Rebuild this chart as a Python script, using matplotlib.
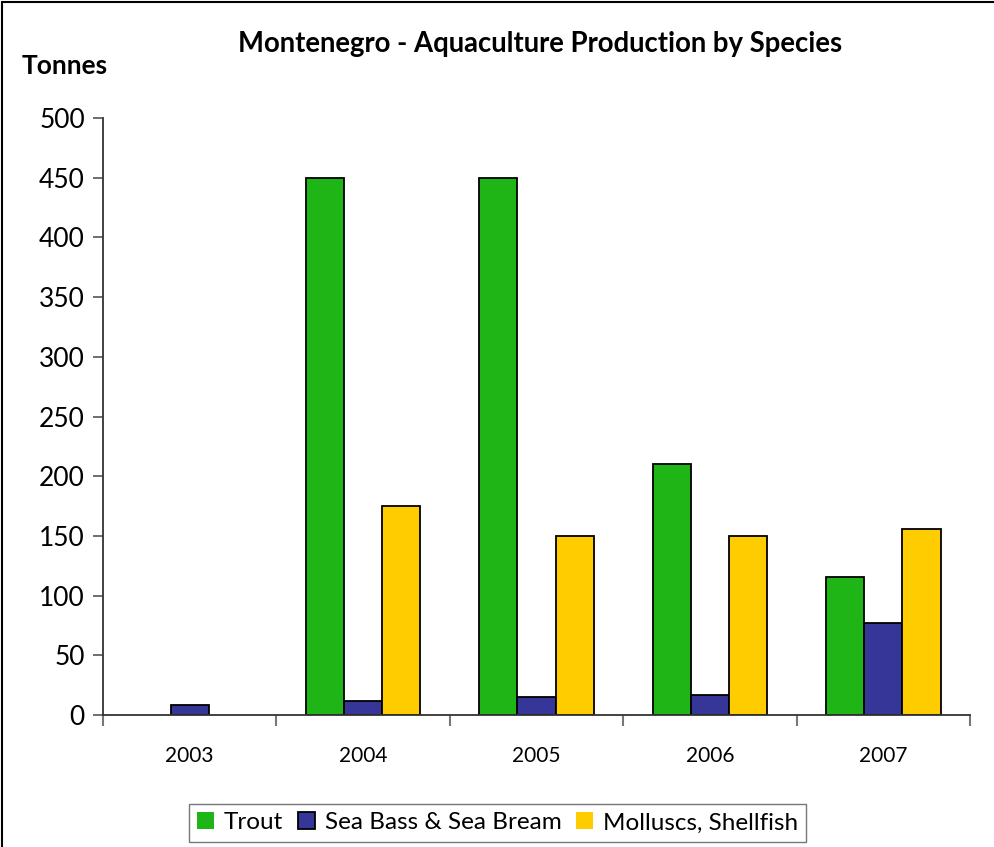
import matplotlib.pyplot as plt
import numpy as np
from matplotlib.patches import Rectangle

years = ["2003", "2004", "2005", "2006", "2007"]
trout = [0, 450, 450, 210, 116]
sea_bass = [8, 12, 15, 17, 77]
molluscs = [0, 175, 150, 150, 156]

series = [
    ("Trout", trout, "#1FB516"),
    ("Sea Bass & Sea Bream", sea_bass, "#363699"),
    ("Molluscs, Shellfish", molluscs, "#FFCC00"),
]

plt.rcParams["font.family"] = ["Lato", "DejaVu Sans"]

fig = plt.figure(figsize=(9.95, 8.47), dpi=100)
ax = fig.add_axes([0.1035, 0.1558, 0.8715, 0.7049])

x = np.arange(len(years))
width = 0.22
for i, (name, vals, color) in enumerate(series):
    bars = ax.bar(x + (i - 1) * width, vals, width, color=color,
                  edgecolor="black", linewidth=1.3, label=name)
    # empty years get no outline on the axis
    for b, v in zip(bars, vals):
        if v == 0:
            b.set_linewidth(0)

ax.set_xlim(-0.5, len(years) - 0.5)
ax.set_ylim(0, 500)
ax.set_yticks(range(0, 501, 50))
ax.tick_params(axis="y", labelsize=19, length=7, width=1.2, color="#555555",
               pad=6)
ax.set_xticks(x)
ax.set_xticklabels(years)
ax.tick_params(axis="x", labelsize=15, length=0, pad=22)
ax.set_xticks(np.arange(-0.5, len(years)), minor=True)
ax.tick_params(axis="x", which="minor", length=8, width=1.5, color="#777777")

for side in ["top", "right"]:
    ax.spines[side].set_visible(False)
for side in ["left", "bottom"]:
    ax.spines[side].set_color("#333333")
    ax.spines[side].set_linewidth(1.3)

fig.text(0.543, 0.948, "Montenegro - Aquaculture Production by Species",
         ha="center", va="center", fontsize=19.8, fontweight="bold")
fig.text(0.022, 0.922, "Tonnes", ha="left", va="center", fontsize=19,
         fontweight="bold")

leg = fig.legend(loc="center", bbox_to_anchor=(0.5, 0.0285), ncol=3,
                 fontsize=17.5, frameon=True, fancybox=False, edgecolor="#555555",
                 handlelength=0.7, handleheight=0.7, handletextpad=0.4,
                 columnspacing=0.6, borderpad=0.35)
leg.get_frame().set_linewidth(1.0)

fig.patches.append(Rectangle((0.002, -0.01), 1.1, 1.008, transform=fig.transFigure,
                             fill=False, edgecolor="black", linewidth=1.5))

fig.savefig("out.png", dpi=100)
